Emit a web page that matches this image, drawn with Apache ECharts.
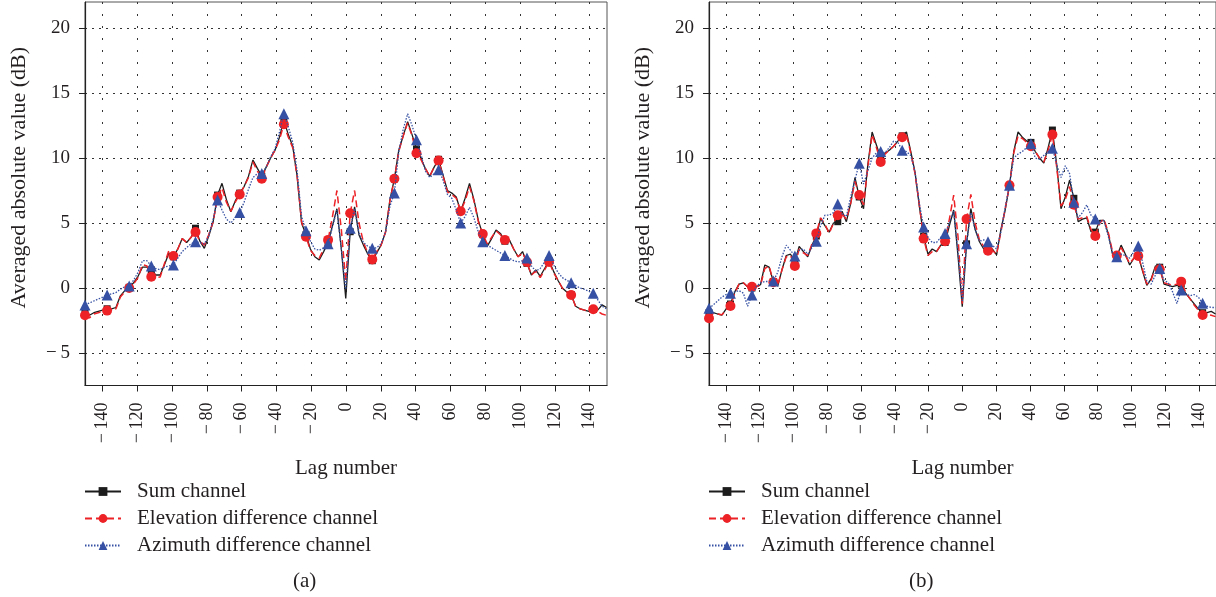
<!DOCTYPE html>
<html>
<head>
<meta charset="utf-8">
<script src="https://cdn.jsdelivr.net/npm/echarts@6/dist/echarts.min.js"></script>
<style>
  html, body { margin: 0; padding: 0; background: #fff; }
  #chart { width: 1216px; height: 597px; }
</style>
</head>
<body>
<div id="chart"></div>
<script>
// Lag positions shared by every channel curve (a marker sits on every 5th one)
const lags = [
  -150, -147.46, -144.92, -142.38, -139.84, -137.3, -134.76, -132.22, -129.68, -127.14,
  -124.6, -122.06, -119.52, -116.98, -114.44, -111.9, -109.36, -106.82, -104.28, -101.74,
  -99.2, -96.66, -94.12, -91.58, -89.04, -86.5, -83.96, -81.42, -78.88, -76.34,
  -73.8, -71.26, -68.72, -66.18, -63.64, -61.1, -58.56, -56.02, -53.48, -50.94,
  -48.4, -45.86, -43.32, -40.78, -38.24, -35.7, -33.16, -30.62, -28.08, -25.54,
  -23, -20.46, -17.92, -15.38, -12.84, -10.3, -7.76, -5.22, -2.68, -0.14,
  2.4, 4.94, 7.48, 10.02, 12.56, 15.1, 17.64, 20.18, 22.72, 25.26,
  27.8, 30.34, 32.88, 35.42, 37.96, 40.5, 43.04, 45.58, 48.12, 50.66,
  53.2, 55.74, 58.28, 60.82, 63.36, 65.9, 68.44, 70.98, 73.52, 76.06,
  78.6, 81.14, 83.68, 86.22, 88.76, 91.3, 93.84, 96.38, 98.92, 101.46,
  104, 106.54, 109.08, 111.62, 114.16, 116.7, 119.24, 121.78, 124.32, 126.86,
  129.4, 131.94, 134.48, 137.02, 139.56, 142.1, 144.64, 147.18, 149.72
];

// Panel (a): averaged absolute value (dB) per channel
const sumA = [
  -1.8, -2.1, -1.9, -1.8, -1.7, -1.6, -1.6, -1.5, -0.6, -0.2,
  0.05, 0.4, 0.9, 1.6, 1.6, 1.4, 1.0, 1.0, 1.8, 2.7,
  2.4, 3.0, 3.8, 3.5, 3.9, 4.6, 3.6, 3.05, 4.0, 5.1,
  7.15, 8.05, 6.8, 5.87, 6.7, 7.3, 7.8, 8.6, 9.85, 9.2,
  8.6, 9.3, 10.0, 10.6, 11.6, 12.9, 11.8, 10.9, 8.6, 5.0,
  4.1, 3.0, 2.4, 2.15, 2.8, 3.5, 4.8, 6.1, 3.0, -0.8,
  4.33, 6.25, 4.08, 3.3, 2.6, 2.1, 2.7, 3.3, 4.3, 6.8,
  8.4, 10.6, 11.7, 12.8, 11.8, 10.7, 10.0, 9.2, 8.6, 9.3,
  9.9, 8.7, 7.5, 7.3, 7.0, 5.9, 6.9, 8.05, 6.8, 5.2,
  4.1, 3.2, 3.8, 4.46, 4.2, 3.6, 3.7, 3.0, 2.4, 2.8,
  1.9, 1.0, 1.4, 0.9, 1.5, 2.1, 1.3, 0.6, 0.0, -0.3,
  -0.5, -1.4, -1.6, -1.7, -1.8, -1.65, -1.7, -1.3, -1.5
];
const elevA = [
  -2.1, -2.3, -2.0, -1.9, -1.8, -1.74, -1.7, -1.6, -0.7, -0.3,
  0.0, 0.3, 0.8, 1.8, 1.7, 0.87, 0.8, 0.85, 1.9, 2.9,
  2.46, 3.0, 3.8, 3.5, 3.9, 4.3, 3.6, 3.3, 4.1, 5.1,
  7.0, 7.7, 6.6, 5.9, 6.6, 7.2, 7.8, 8.5, 9.7, 9.0,
  8.4, 9.3, 10.0, 10.6, 11.4, 12.6, 11.6, 10.8, 8.6, 5.1,
  3.95, 2.9, 2.5, 2.3, 3.0, 3.7, 5.5, 7.5, 4.5, 0.5,
  5.75, 7.5, 5.0, 3.5, 2.7, 2.2, 2.8, 3.3, 4.3, 6.7,
  8.4, 10.5, 11.7, 12.7, 11.7, 10.36, 9.9, 9.2, 8.6, 9.3,
  9.8, 8.6, 7.4, 7.2, 6.9, 5.9, 6.7, 7.8, 6.7, 5.1,
  4.15, 3.4, 3.9, 4.4, 4.1, 3.7, 3.7, 3.0, 2.4, 2.7,
  2.0, 1.0, 1.3, 0.8, 1.4, 2.0, 1.2, 0.6, 0.0, -0.3,
  -0.54, -1.4, -1.6, -1.7, -1.8, -1.64, -1.8, -2.0, -2.1
];
const aziA = [
  -1.3, -1.15, -1.0, -0.85, -0.7, -0.54, -0.45, -0.35, -0.1, 0.1,
  0.15, 0.6, 1.2, 2.1, 2.1, 1.7, 1.5, 1.4, 1.6, 1.7,
  1.77, 2.3, 2.8, 3.1, 3.4, 3.56, 3.5, 3.4, 4.0, 5.3,
  6.77, 6.0, 5.3, 5.0, 5.4, 5.8, 6.6, 7.6, 8.5, 8.8,
  8.8, 9.3, 10.1, 10.7, 12.0, 13.4, 12.4, 11.2, 9.0, 5.5,
  4.4, 3.6, 3.0, 2.9, 3.1, 3.4, 4.7, 6.0, 3.0, -0.1,
  4.6, 6.1, 4.2, 3.5, 3.2, 3.05, 3.1, 3.4, 4.3, 6.3,
  7.3, 10.5, 12.2, 13.4, 12.5, 11.4, 10.3, 9.0, 8.5, 8.8,
  9.1, 8.3, 7.2, 6.9, 6.0, 5.0, 5.5, 6.2, 5.4, 4.3,
  3.56, 3.3, 3.1, 2.9, 2.7, 2.5, 2.3, 2.1, 2.0, 2.1,
  2.3, 1.7, 1.3, 1.5, 2.0, 2.5, 1.8, 1.2, 0.8, 0.6,
  0.4, 0.2, 0.0, -0.1, -0.25, -0.4, -0.9, -1.4, -1.6
];

// Panel (b): averaged absolute value (dB) per channel
const sumB = [
  -1.9, -1.9, -2.0, -2.08, -1.6, -1.23, -0.3, 0.3, 0.4, 0.1,
  0.0, 0.1, 0.25, 1.77, 1.6, 0.5, 0.15, 1.4, 2.5, 2.6,
  2.0, 3.2, 2.8, 2.4, 3.3, 4.0, 5.36, 4.8, 4.3, 5.0,
  5.1, 5.9, 5.1, 6.5, 8.5, 7.0, 6.1, 9.5, 12.0, 11.0,
  10.0, 10.36, 10.6, 10.9, 11.3, 11.7, 12.0, 10.5, 8.9, 6.3,
  4.0, 2.6, 3.0, 2.8, 3.3, 3.5, 4.8, 6.0, 2.5, -1.43,
  3.4, 6.1, 4.5, 3.56, 3.0, 3.0, 3.0, 2.54, 4.5, 6.0,
  7.9, 10.5, 12.0, 11.6, 11.3, 11.2, 10.5, 10.0, 9.6, 10.8,
  12.15, 9.5, 6.1, 7.0, 8.3, 6.9, 5.1, 5.3, 5.4, 4.33,
  4.3, 5.2, 5.2, 4.2, 2.6, 2.4, 3.3, 2.6, 1.77, 2.3,
  2.5, 1.3, 0.2, 0.7, 1.7, 1.6, 0.3, 0.2, 0.1, 0.2,
  0.3, -0.4, -0.8, -1.2, -1.6, -1.9, -1.9, -1.8, -2.0
];
const elevB = [
  -2.33, -1.95, -2.0, -2.05, -1.7, -1.38, -0.4, 0.3, 0.4, 0.1,
  0.1, 0.1, 0.2, 1.5, 1.7, 0.45, 0.2, 1.4, 2.4, 2.5,
  1.7, 3.0, 2.7, 2.5, 3.4, 4.2, 5.4, 4.9, 4.2, 5.0,
  5.6, 5.7, 5.3, 6.5, 8.2, 7.15, 6.4, 9.3, 11.8, 10.8,
  9.7, 10.3, 10.6, 10.9, 11.3, 11.6, 11.8, 10.4, 8.8, 6.4,
  3.8, 2.5, 2.8, 2.8, 3.3, 3.6, 5.3, 7.15, 4.0, -1.2,
  5.3, 7.2, 5.0, 3.7, 3.2, 2.87, 2.9, 2.6, 4.3, 6.1,
  7.9, 10.4, 11.7, 11.5, 11.2, 10.9, 10.5, 10.0, 9.7, 10.6,
  11.8, 9.3, 6.3, 6.8, 7.8, 6.4, 5.3, 5.4, 5.5, 4.5,
  4.0, 5.0, 5.3, 4.3, 2.8, 2.5, 3.1, 2.5, 1.9, 2.3,
  2.46, 1.4, 0.3, 0.6, 1.6, 1.44, 0.4, 0.3, 0.2, 0.3,
  0.49, -0.3, -0.8, -1.3, -1.7, -2.08, -2.0, -2.1, -2.2
];
const aziB = [
  -1.56, -1.3, -1.0, -0.7, -0.5, -0.4, -0.3, -0.2, -0.4, -1.4,
  -0.54, 0.1, 0.4, 0.5, 0.5, 0.54, 1.2, 2.4, 3.3, 2.9,
  2.46, 2.9, 3.0, 2.6, 3.1, 3.6, 4.8, 5.6, 5.6, 5.8,
  6.46, 5.7, 5.5, 7.0, 8.3, 9.6, 8.0, 9.0, 10.0, 10.4,
  10.5, 10.4, 10.8, 11.3, 11.2, 10.6, 10.5, 10.2, 8.9, 6.5,
  4.7, 3.9, 3.5, 3.5, 3.9, 4.2, 5.0, 5.9, 2.8, -1.0,
  3.4, 5.8, 4.5, 3.6, 3.7, 3.56, 3.3, 3.0, 4.3, 6.2,
  7.9, 10.0, 10.3, 10.5, 10.8, 11.1, 10.0, 9.9, 10.2, 10.5,
  10.75, 9.5, 8.5, 9.4, 8.8, 6.6, 5.4, 5.8, 6.4, 5.6,
  5.3, 5.1, 5.2, 4.0, 2.7, 2.4, 2.6, 2.5, 2.3, 2.8,
  3.23, 2.0, 0.5, 0.3, 1.0, 1.5, 0.6, 0.4, -0.3, -1.2,
  -0.15, -0.4, -0.6, -0.5, -0.7, -1.18, -1.4, -1.5, -1.5
];

// Axis tick labels
const xTickValues = [-140, -120, -100, -80, -60, -40, -20, 0, 20, 40, 60, 80, 100, 120, 140];
const yTickValues = [-5, 0, 5, 10, 15, 20];

const channelNames = ['Sum channel', 'Elevation difference channel', 'Azimuth difference channel'];
const panelLabels = ['(a)', '(b)'];

const FONT = '"Liberation Serif", "Times New Roman", "DejaVu Serif", serif';
const TEXT = '#231f20';
const MARK_EVERY = 5;

const styles = [
  { color: '#1c1c1c', symbol: 'rect', size: 7, width: 1.3, type: 'solid', z: 3 },
  { color: '#ec2227', symbol: 'circle', size: 10, width: 1.5, type: [7, 4], z: 4 },
  { color: '#3651a3', symbol: 'triangle', size: 11, width: 1.3, type: [1.5, 1.5], z: 5 }
];

// Negative ticks use a true minus sign with a thin space before the digits
const fmtMinus = v => (v < 0 ? '\u2212\u2009' + Math.abs(v) : String(v));

const grids = [
  { left: 85, top: 2, width: 522, height: 383.5 },
  { left: 709, top: 2, width: 507, height: 383.5 }
];

const xAxes = grids.map((g, i) => ({
  type: 'value', gridIndex: i, min: -150, max: 150, interval: 10,
  name: 'Lag number', nameLocation: 'middle', nameGap: 72,
  nameTextStyle: { fontFamily: FONT, fontSize: 21, color: TEXT },
  axisLine: { onZero: false, lineStyle: { color: '#222', width: 1.2 } },
  axisTick: { show: true, customValues: xTickValues, length: 6, lineStyle: { color: '#222' } },
  axisLabel: {
    customValues: xTickValues, rotate: 90, margin: 17,
    fontFamily: FONT, fontSize: 18, color: TEXT, formatter: fmtMinus
  },
  splitLine: { show: true, lineStyle: { color: '#333', type: [2, 10], width: 1 } }
}));

const yAxes = grids.map((g, i) => ({
  type: 'value', gridIndex: i, min: -7.5, max: 22, interval: 2.5,
  name: 'Averaged absolute value (dB)', nameLocation: 'middle', nameGap: 55,
  nameTextStyle: { fontFamily: FONT, fontSize: 22, color: TEXT, padding: [0, 0, 0, 32] },
  axisLine: { onZero: false, lineStyle: { color: '#222', width: 1.2 } },
  axisTick: { show: true, customValues: yTickValues, length: 6, lineStyle: { color: '#222' } },
  axisLabel: {
    customValues: yTickValues, margin: 15,
    fontFamily: FONT, fontSize: 19, color: TEXT, formatter: fmtMinus
  },
  splitLine: { show: true, lineStyle: { color: '#333', type: [2, 5], width: 1 } }
}));

const panels = [[sumA, elevA, aziA], [sumB, elevB, aziB]];
const series = [];
panels.forEach((chans, p) => {
  chans.forEach((vals, c) => {
    const st = styles[c];
    series.push({
      name: channelNames[c], type: 'line', xAxisIndex: p, yAxisIndex: p,
      data: vals.map((v, k) => [lags[k], v]),
      symbol: st.symbol,
      symbolSize: (val, params) => (params.dataIndex % MARK_EVERY === 0 ? st.size : 0),
      showAllSymbol: true,
      lineStyle: { color: st.color, width: st.width, type: st.type },
      itemStyle: { color: st.color },
      z: st.z, animation: false
    });
  });
});

const legendBase = {
  orient: 'vertical', top: 481, padding: 0, itemGap: 6, itemWidth: 36, itemHeight: 11,
  selectedMode: false, data: channelNames,
  textStyle: { fontFamily: FONT, fontSize: 21, color: TEXT, padding: [0, 0, 0, 11] }
};

const titleStyle = { fontFamily: FONT, fontSize: 21, fontWeight: 'normal', color: TEXT };

const chart = echarts.init(document.getElementById('chart'), null, { renderer: 'canvas' });
chart.setOption({
  animation: false,
  backgroundColor: '#fff',
  title: [
    { text: panelLabels[0], left: 288, top: 566, textStyle: titleStyle },
    { text: panelLabels[1], left: 904, top: 566, textStyle: titleStyle }
  ],
  legend: [
    Object.assign({}, legendBase, { left: 84 }),
    Object.assign({}, legendBase, { left: 708 })
  ],
  grid: grids.map(g => Object.assign({ show: true, borderColor: '#555', borderWidth: 1, containLabel: false }, g)),
  xAxis: xAxes,
  yAxis: yAxes,
  series: series
});
</script>
</body>
</html>
